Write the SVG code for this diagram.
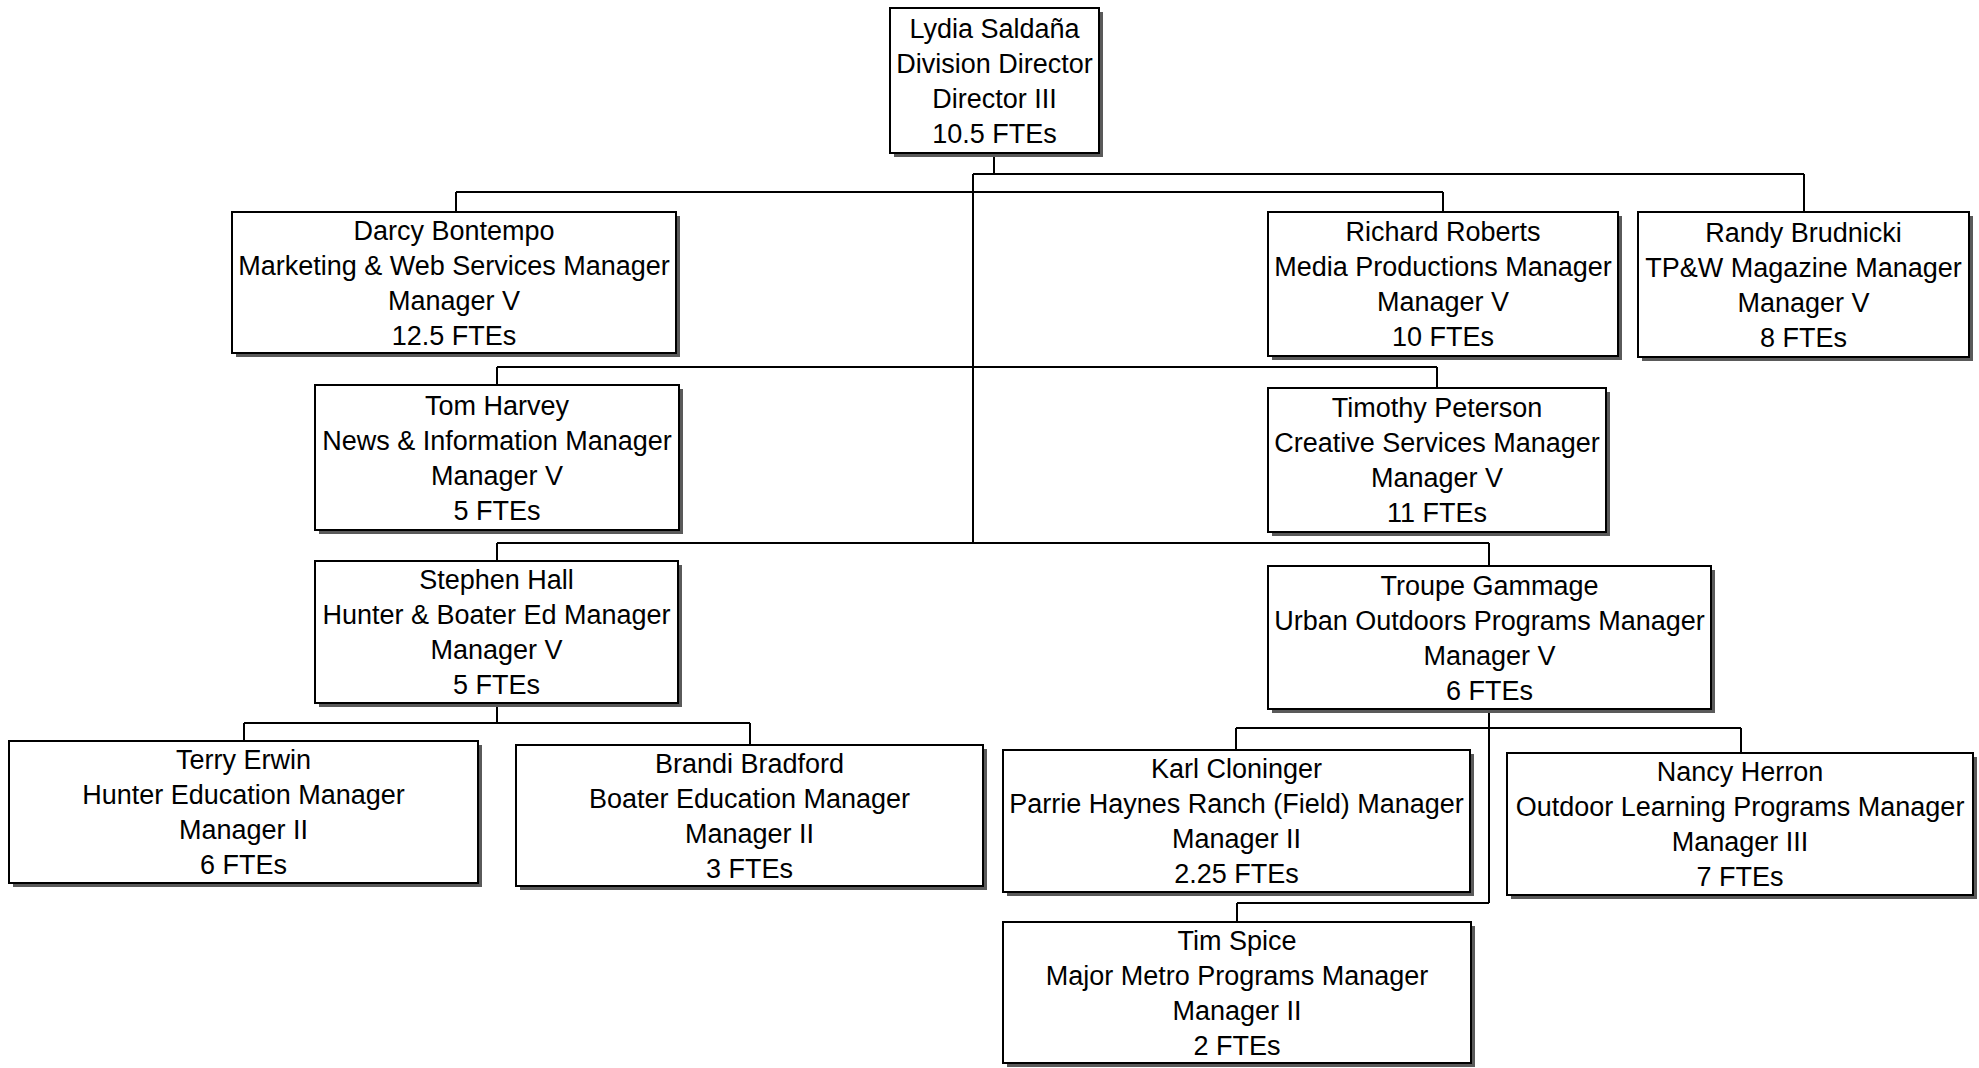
<svg xmlns="http://www.w3.org/2000/svg" width="1979" height="1068" viewBox="0 0 1979 1068">
  <style>
    .bg { fill: #ffffff; }
    .shadow { fill: #5a5a5a; }
    .box { fill: #ffffff; stroke: #000000; stroke-width: 2; }
    .lbl { font-family: "Liberation Sans", Arial, sans-serif; font-size: 27px; fill: #000000; text-anchor: middle; }
    .wire { fill: none; stroke: #000000; stroke-width: 2; }
  </style>
  <rect class="bg" x="0" y="0" width="1979" height="1068"/>

  <!-- reporting lines -->
  <g id="connectors">
    <path class="wire" d="M994 153 V174 M973 174 H1804 M1804 174 V212 M973 174 V543"/>
    <path class="wire" d="M456 192 H1443 M456 192 V212 M1443 192 V212"/>
    <path class="wire" d="M497 367 H1437 M497 367 V385 M1437 367 V388"/>
    <path class="wire" d="M497 543 H1489 M497 543 V561 M1489 543 V566"/>
    <path class="wire" d="M497 703 V723 M244 723 H750 M244 723 V741 M750 723 V745"/>
    <path class="wire" d="M1489 709 V903 M1236 728 H1741 M1236 728 V750 M1741 728 V753 M1237 903 H1489 M1237 903 V922"/>
  </g>

  <!-- Division director -->
  <g id="node-saldana">
    <rect class="shadow" x="894" y="12" width="209" height="145"/>
    <rect class="box" x="890" y="8" width="209" height="145"/>
    <text class="lbl" y="37.5"><tspan x="994.5">Lydia Saldaña</tspan><tspan x="994.5" dy="35">Division Director</tspan><tspan x="994.5" dy="35">Director III</tspan><tspan x="994.5" dy="35">10.5 FTEs</tspan></text>
  </g>

  <g id="node-bontempo">
    <rect class="shadow" x="236" y="216" width="444" height="141"/>
    <rect class="box" x="232" y="212" width="444" height="141"/>
    <text class="lbl" y="239.5"><tspan x="454">Darcy Bontempo</tspan><tspan x="454" dy="35">Marketing &amp; Web Services Manager</tspan><tspan x="454" dy="35">Manager V</tspan><tspan x="454" dy="35">12.5 FTEs</tspan></text>
  </g>

  <g id="node-roberts">
    <rect class="shadow" x="1272" y="216" width="350" height="144"/>
    <rect class="box" x="1268" y="212" width="350" height="144"/>
    <text class="lbl" y="241"><tspan x="1443">Richard Roberts</tspan><tspan x="1443" dy="35">Media Productions Manager</tspan><tspan x="1443" dy="35">Manager V</tspan><tspan x="1443" dy="35">10 FTEs</tspan></text>
  </g>

  <g id="node-brudnicki">
    <rect class="shadow" x="1642" y="216" width="331" height="145"/>
    <rect class="box" x="1638" y="212" width="331" height="145"/>
    <text class="lbl" y="241.5"><tspan x="1803.5">Randy Brudnicki</tspan><tspan x="1803.5" dy="35">TP&amp;W Magazine Manager</tspan><tspan x="1803.5" dy="35">Manager V</tspan><tspan x="1803.5" dy="35">8 FTEs</tspan></text>
  </g>

  <g id="node-harvey">
    <rect class="shadow" x="319" y="389" width="364" height="145"/>
    <rect class="box" x="315" y="385" width="364" height="145"/>
    <text class="lbl" y="414.5"><tspan x="497">Tom Harvey</tspan><tspan x="497" dy="35">News &amp; Information Manager</tspan><tspan x="497" dy="35">Manager V</tspan><tspan x="497" dy="35">5 FTEs</tspan></text>
  </g>

  <g id="node-peterson">
    <rect class="shadow" x="1272" y="392" width="338" height="144"/>
    <rect class="box" x="1268" y="388" width="338" height="144"/>
    <text class="lbl" y="417"><tspan x="1437">Timothy Peterson</tspan><tspan x="1437" dy="35">Creative Services Manager</tspan><tspan x="1437" dy="35">Manager V</tspan><tspan x="1437" dy="35">11 FTEs</tspan></text>
  </g>

  <g id="node-hall">
    <rect class="shadow" x="319" y="565" width="363" height="142"/>
    <rect class="box" x="315" y="561" width="363" height="142"/>
    <text class="lbl" y="589"><tspan x="496.5">Stephen Hall</tspan><tspan x="496.5" dy="35">Hunter &amp; Boater Ed Manager</tspan><tspan x="496.5" dy="35">Manager V</tspan><tspan x="496.5" dy="35">5 FTEs</tspan></text>
  </g>

  <g id="node-gammage">
    <rect class="shadow" x="1272" y="570" width="443" height="143"/>
    <rect class="box" x="1268" y="566" width="443" height="143"/>
    <text class="lbl" y="594.5"><tspan x="1489.5">Troupe Gammage</tspan><tspan x="1489.5" dy="35">Urban Outdoors Programs Manager</tspan><tspan x="1489.5" dy="35">Manager V</tspan><tspan x="1489.5" dy="35">6 FTEs</tspan></text>
  </g>

  <g id="node-erwin">
    <rect class="shadow" x="13" y="745" width="469" height="142"/>
    <rect class="box" x="9" y="741" width="469" height="142"/>
    <text class="lbl" y="769"><tspan x="243.5">Terry Erwin</tspan><tspan x="243.5" dy="35">Hunter Education Manager</tspan><tspan x="243.5" dy="35">Manager II</tspan><tspan x="243.5" dy="35">6 FTEs</tspan></text>
  </g>

  <g id="node-bradford">
    <rect class="shadow" x="520" y="749" width="467" height="141"/>
    <rect class="box" x="516" y="745" width="467" height="141"/>
    <text class="lbl" y="772.5"><tspan x="749.5">Brandi Bradford</tspan><tspan x="749.5" dy="35">Boater Education Manager</tspan><tspan x="749.5" dy="35">Manager II</tspan><tspan x="749.5" dy="35">3 FTEs</tspan></text>
  </g>

  <g id="node-cloninger">
    <rect class="shadow" x="1007" y="754" width="467" height="142"/>
    <rect class="box" x="1003" y="750" width="467" height="142"/>
    <text class="lbl" y="778"><tspan x="1236.5">Karl Cloninger</tspan><tspan x="1236.5" dy="35">Parrie Haynes Ranch (Field) Manager</tspan><tspan x="1236.5" dy="35">Manager II</tspan><tspan x="1236.5" dy="35">2.25 FTEs</tspan></text>
  </g>

  <g id="node-herron">
    <rect class="shadow" x="1511" y="757" width="466" height="142"/>
    <rect class="box" x="1507" y="753" width="466" height="142"/>
    <text class="lbl" y="781"><tspan x="1740">Nancy Herron</tspan><tspan x="1740" dy="35">Outdoor Learning Programs Manager</tspan><tspan x="1740" dy="35">Manager III</tspan><tspan x="1740" dy="35">7 FTEs</tspan></text>
  </g>

  <g id="node-spice">
    <rect class="shadow" x="1007" y="926" width="468" height="141"/>
    <rect class="box" x="1003" y="922" width="468" height="141"/>
    <text class="lbl" y="949.5"><tspan x="1237">Tim Spice</tspan><tspan x="1237" dy="35">Major Metro Programs Manager</tspan><tspan x="1237" dy="35">Manager II</tspan><tspan x="1237" dy="35">2 FTEs</tspan></text>
  </g>
</svg>
